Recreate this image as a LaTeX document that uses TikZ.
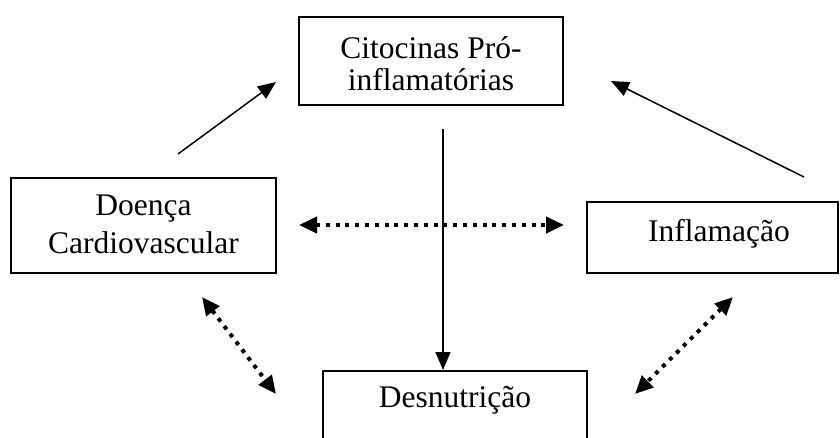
\documentclass[tikz,border=0pt]{standalone}
\usepackage{fontspec}
\setmainfont{Liberation Serif}
\usetikzlibrary{arrows.meta}
\begin{document}
\begin{tikzpicture}[x=1pt,y=-1pt,
  box/.style={draw,line width=1.9pt,inner sep=0pt},
  label/.style={align=center,inner sep=0pt},
  solidarrow/.style={line width=1.5pt,-{Triangle[length=18pt,width=15pt]}},
  dotarrow/.style={line width=4pt,dash pattern=on 4pt off 5.8pt,
    {Triangle[length=18pt,width=16pt]}-{Triangle[length=18pt,width=16pt]}}]
\useasboundingbox (0,0) rectangle (840,437);
\clip (0,0) rectangle (840,437);
\node[box,minimum width=264pt,minimum height=88pt] (cit) at (431,61) {};
\node[label,font=\fontsize{31.5}{32}\selectfont] (cittext) at (431,64) {Citocinas Pró-\\inflamatórias};
\node[box,minimum width=265pt,minimum height=95pt] (doe) at (143.5,225.5) {};
\node[label,font=\fontsize{31.5}{38}\selectfont] (doetext) at (143.5,224) {Doença\\Cardiovascular};
\node[box,minimum width=251pt,minimum height=71pt] (inf) at (712.5,237.5) {};
\node[label,font=\fontsize{31.5}{37}\selectfont] (inftext) at (719,234) {Inflamação};
\node[box,minimum width=264pt,minimum height=100pt,anchor=north] (des) at (455,370) {};
\node[label,font=\fontsize{31.5}{37}\selectfont] (destext) at (455,400) {Desnutrição};
\coordinate (a1) at (178,154);
\coordinate (a2) at (276,82);
\coordinate (b1) at (804,177);
\coordinate (b2) at (611,81);
\coordinate (v1) at (443,129);
\coordinate (h1) at (299,225);
\coordinate (h2) at (564,225);
\coordinate (l1) at (202,297);
\coordinate (l2) at (276,394);
\coordinate (r1) at (733,297);
\coordinate (r2) at (635,394);
\draw[solidarrow] (a1) -- (a2);
\draw[solidarrow] (b1) -- (b2);
\draw[solidarrow] (v1) -- (v1 |- des.north);
\draw[dotarrow] (h1) -- (h2);
\draw[dotarrow] (l1) -- (l2);
\draw[dotarrow] (r1) -- (r2);
\end{tikzpicture}
\end{document}
